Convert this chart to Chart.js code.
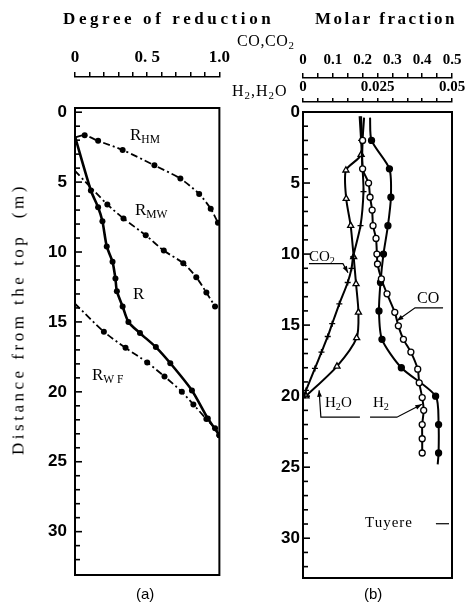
<!DOCTYPE html>
<html>
<head>
<title>Degree of reduction and gas composition</title>
<style>
    body { margin: 0; background: #fff; }
    #wrap { position: relative; width: 468px; height: 603px; overflow: hidden; }
    canvas { position: absolute; top: 0; }
    #leftChart { left: 0; }
    #rightChart { left: 234px; }
    .t {
        position: absolute;
        font-family: 'Liberation Serif', 'DejaVu Serif', serif;
        color: #000;
        white-space: nowrap;
        line-height: 1;
    }
    .t sub { font-size: 0.68em; vertical-align: -0.3em; line-height: 0; }
    .s { font-family: 'Liberation Sans', Arial, sans-serif; }
</style>
<script src="https://cdn.jsdelivr.net/npm/chart.js"></script>
</head>
<body>
<div id="wrap">
    <canvas id="leftChart" width="234" height="603"></canvas>
    <canvas id="rightChart" width="234" height="603"></canvas>

    <div class="t" style="left:63px;top:10px;font-size:17px;font-weight:bold;letter-spacing:3.6px">Degree of reduction</div>
    <div class="t" style="left:315px;top:10px;font-size:17px;font-weight:bold;letter-spacing:2.5px">Molar fraction</div>
    <div class="t" style="left:237px;top:33px;font-size:16px;letter-spacing:0.6px">CO,CO<sub>2</sub></div>
    <div class="t" style="left:232px;top:83px;font-size:16px;letter-spacing:1px">H<sub>2</sub>,H<sub>2</sub>O</div>

    <div class="t" style="left:8px;top:319px;font-size:17px;letter-spacing:3.5px;transform:translate(0,-50%) rotate(-90deg);transform-origin:50% 50%;width:300px;margin-left:-140px;text-align:center">Distance from the top &nbsp;(m)</div>

    <div class="t" style="left:130px;top:126px;font-size:17px">R<sub>HM</sub></div>
    <div class="t" style="left:135px;top:201px;font-size:17px">R<sub>MW</sub></div>
    <div class="t" style="left:133px;top:285px;font-size:17px">R</div>
    <div class="t" style="left:92px;top:366px;font-size:17px">R<sub>W F</sub></div>

    <div class="t" style="left:309px;top:249px;font-size:15px">CO<sub>2</sub></div>
    <div class="t" style="left:417px;top:290px;font-size:16px">CO</div>
    <div class="t" style="left:325px;top:395px;font-size:15px">H<sub>2</sub>O</div>
    <div class="t" style="left:373px;top:395px;font-size:15px">H<sub>2</sub></div>
    <div class="t" style="left:365px;top:515px;font-size:15px;letter-spacing:1px">Tuyere</div>

    <div class="t s" style="left:136px;top:586px;font-size:15px">(a)</div>
    <div class="t s" style="left:364px;top:586px;font-size:15px">(b)</div>
</div>
<script>
    // (a) degree of reduction against depth below the stock line
    const rhmDeg = [0, 0.067, 0.16, 0.33, 0.55, 0.73, 0.86, 0.94, 0.99];
    const rhmDepth = [1.8, 1.65, 2.05, 2.7, 3.8, 4.75, 5.85, 6.9, 7.9];
    const rmwDeg = [0, 0.224, 0.336, 0.49, 0.615, 0.75, 0.84, 0.91, 0.97];
    const rmwDepth = [4.2, 6.6, 7.6, 8.8, 9.9, 10.8, 11.8, 12.9, 13.9];
    const rDeg = [0, 0.11, 0.16, 0.19, 0.22, 0.26, 0.28, 0.29, 0.33, 0.37, 0.45, 0.56, 0.66, 0.81, 0.92, 1.0];
    const rDepth = [1.75, 5.6, 6.8, 7.8, 9.6, 10.7, 11.9, 12.8, 13.9, 15.0, 15.8, 16.8, 17.95, 19.9, 21.9, 23.1];
    const rwfDeg = [0, 0.2, 0.35, 0.5, 0.62, 0.74, 0.82, 0.91, 0.97, 1.0];
    const rwfDepth = [13.7, 15.7, 16.85, 17.9, 18.9, 20.0, 20.9, 21.95, 22.6, 23.1];

    // (b) gas molar fractions (CO, CO2 on 0-0.5 scale; H2, H2O on 0-0.05 scale)
    const coDepth = [0.4, 2, 4, 5, 6, 6.9, 8, 8.9, 10, 10.7, 11.75, 12.8, 14.1, 15.05, 16, 16.9, 18.1, 19.06, 20.1, 21, 22, 23, 24];
    const coVal = [0.205, 0.2, 0.2, 0.22, 0.225, 0.232, 0.235, 0.245, 0.248, 0.25, 0.263, 0.282, 0.308, 0.32, 0.337, 0.362, 0.385, 0.39, 0.4, 0.405, 0.4, 0.4, 0.4];
    const co2Depth = [0.3, 2, 4, 5.6, 8, 10.2, 11, 12, 13.5, 14.9, 15.8, 16.9, 18.05, 19.6, 20.1];
    const co2Val = [0.19, 0.195, 0.2, 0.203, 0.193, 0.168, 0.163, 0.15, 0.122, 0.098, 0.083, 0.062, 0.04, 0.01, 0.0];
    const h2Depth = [0.4, 2, 4, 6, 8, 10, 12, 14, 16, 18, 20, 22, 24, 24.8];
    const h2Val = [0.0225, 0.023, 0.029, 0.0295, 0.0285, 0.027, 0.026, 0.0255, 0.0265, 0.033, 0.0445, 0.0455, 0.0455, 0.0452];
    const h2oDepth = [0.3, 3.0, 4.1, 6.1, 8, 10.2, 12.1, 14.1, 15.9, 17.9, 20];
    const h2oVal = [0.0195, 0.0195, 0.0144, 0.0145, 0.016, 0.017, 0.0178, 0.0186, 0.018, 0.0114, 0.001];

    // tick labels
    const depthLabels = [0, 5, 10, 15, 20, 25, 30];
    const depthMinor = [1, 2, 3, 4, 6, 7, 8, 9, 11, 12, 13, 14, 16, 17, 18, 19, 21, 22, 23, 24, 26, 27, 28, 29, 31, 32];
    const degTickValues = [0, 0.5, 1];
    const degTickLabels = ['0', '0. 5', '1.0'];
    const coTickValues = [0, 0.1, 0.2, 0.3, 0.4, 0.5];
    const coTickLabels = ['0', '0.1', '0.2', '0.3', '0.4', '0.5'];
    const h2TickValues = [0, 0.025, 0.05];
    const h2TickLabels = ['0', '0.025', '0.05'];

    Chart.defaults.color = '#000';
    Chart.defaults.font.family = "'Liberation Sans', Arial, sans-serif";

    function pts(xs, ys) {
        return xs.map((x, i) => ({ x: x, y: ys[i] }));
    }

    function pickLabel(values, labels) {
        return function (v) {
            const i = values.findIndex(t => Math.abs(t - v) < 1e-6);
            return i >= 0 ? labels[i] : '';
        };
    }

    const noFirst = ctx => ctx.dataIndex === 0 ? 0 : 3;

    // box round the plot area plus the small inward ticks on the depth axis
    const frame = {
        id: 'frame',
        afterDraw(chart) {
            const a = chart.chartArea, c = chart.ctx, y = chart.scales.y;
            c.save();
            c.strokeStyle = '#000';
            c.lineWidth = 2;
            c.strokeRect(a.left, a.top, a.right - a.left, a.bottom - a.top);
            c.lineWidth = 1.6;
            depthLabels.concat(depthMinor).forEach(v => {
                const py = y.getPixelForValue(v);
                if (py < a.top + 2 || py > a.bottom - 2) return;
                const len = depthLabels.includes(v) ? 7 : 5;
                c.beginPath();
                c.moveTo(a.left, py);
                c.lineTo(a.left + len, py);
                c.stroke();
            });
            c.restore();
        }
    };

    function depthAxis(min, max, pad) {
        return {
            type: 'linear',
            position: 'left',
            reverse: true,
            min: min,
            max: max,
            afterFit(s) { s.width = 40; },
            border: { display: true, color: '#000', width: 2 },
            grid: { drawOnChartArea: false, drawTicks: false },
            ticks: {
                stepSize: 1,
                autoSkip: false,
                includeBounds: false,
                padding: pad,
                font: { size: 17, weight: 'bold' },
                callback: v => depthLabels.includes(v) ? String(v) : ''
            }
        };
    }

    function gapAxis(h) {
        return {
            type: 'linear',
            axis: 'x',
            position: 'top',
            weight: 0,
            afterFit(s) { s.height = h; },
            border: { display: false },
            grid: { display: false, drawTicks: false },
            ticks: { display: false }
        };
    }

    function topAxis(max, step, weight, h, values, labels, font, pad, tl) {
        return {
            type: 'linear',
            position: 'top',
            weight: weight,
            min: 0,
            max: max,
            afterFit(s) { s.height = h; },
            border: { display: true, color: '#000', width: 1.5 },
            grid: { drawOnChartArea: false, color: '#000', lineWidth: 1.5, tickLength: tl },
            ticks: {
                stepSize: step,
                autoSkip: false,
                maxRotation: 0,
                padding: pad,
                font: font,
                callback: pickLabel(values, labels)
            }
        };
    }

    const serif = "'Liberation Serif', 'DejaVu Serif', serif";

    new Chart(document.getElementById('leftChart'), {
        type: 'scatter',
        data: {
            datasets: [
                { label: 'RHM', data: pts(rhmDeg, rhmDepth), borderDash: [7, 3, 2, 3], borderWidth: 1.8 },
                { label: 'RMW', data: pts(rmwDeg, rmwDepth), borderDash: [7, 3, 2, 3], borderWidth: 1.8 },
                { label: 'R', data: pts(rDeg, rDepth), borderWidth: 2.6 },
                { label: 'RWF', data: pts(rwfDeg, rwfDepth), borderDash: [7, 3, 2, 3], borderWidth: 1.8 }
            ].map(d => Object.assign({
                showLine: true,
                tension: 0.25,
                borderColor: '#000',
                backgroundColor: '#000',
                pointRadius: noFirst,
                pointBorderWidth: 0,
                pointHoverRadius: 0
            }, d))
        },
        options: {
            responsive: false,
            animation: false,
            devicePixelRatio: 1,
            layout: { padding: { left: 35, right: 12, top: 50, bottom: 28 } },
            plugins: { legend: { display: false }, tooltip: { enabled: false } },
            scales: {
                x: topAxis(1, 0.1, 1, 27, degTickValues, degTickLabels,
                    { family: serif, size: 17, weight: 'bold' }, 4, 5),
                gap: gapAxis(31),
                y: depthAxis(-0.3, 33.1, 8)
            }
        },
        plugins: [frame]
    });

    // leader lines for the gas labels, in CO-scale and depth units
    const leaders = [
        { path: [[0.020, 10.67], [0.134, 10.67], [0.151, 11.31]], arrow: true },
        { path: [[0.47, 13.78], [0.376, 13.78], [0.315, 14.7]], arrow: true },
        { path: [[0.191, 21.48], [0.060, 21.48], [0.054, 19.58]], arrow: true },
        { path: [[0.225, 21.48], [0.315, 21.48], [0.399, 20.57]], arrow: true },
        { path: [[0.446, 28.98], [0.49, 28.98]], arrow: false }
    ];

    const leaderLines = {
        id: 'leaderLines',
        afterDatasetsDraw(chart) {
            const xs = chart.scales.xco, ys = chart.scales.y, c = chart.ctx;
            c.save();
            c.strokeStyle = '#000';
            c.fillStyle = '#000';
            c.lineWidth = 1.2;
            leaders.forEach(l => {
                const p = l.path.map(q => [xs.getPixelForValue(q[0]), ys.getPixelForValue(q[1])]);
                c.beginPath();
                p.forEach((q, i) => i ? c.lineTo(q[0], q[1]) : c.moveTo(q[0], q[1]));
                c.stroke();
                if (l.arrow) {
                    const a = p[p.length - 1], b = p[p.length - 2];
                    const ang = Math.atan2(a[1] - b[1], a[0] - b[0]);
                    c.beginPath();
                    c.moveTo(a[0], a[1]);
                    c.lineTo(a[0] - 7 * Math.cos(ang - 0.35), a[1] - 7 * Math.sin(ang - 0.35));
                    c.lineTo(a[0] - 7 * Math.cos(ang + 0.35), a[1] - 7 * Math.sin(ang + 0.35));
                    c.closePath();
                    c.fill();
                }
            });
            c.restore();
        }
    };

    const gasStyle = {
        showLine: true,
        tension: 0.25,
        borderColor: '#000',
        borderWidth: 2,
        pointBorderColor: '#000',
        pointBorderWidth: 1.3,
        pointHoverRadius: 0
    };

    new Chart(document.getElementById('rightChart'), {
        type: 'scatter',
        data: {
            datasets: [
                { label: 'CO', data: pts(coVal, coDepth), xAxisID: 'xco', pointStyle: 'circle',
                  pointRadius: noFirst, backgroundColor: '#fff' },
                { label: 'CO2', data: pts(co2Val, co2Depth), xAxisID: 'xco', pointStyle: 'cross',
                  pointRadius: noFirst, backgroundColor: '#000' },
                { label: 'H2', data: pts(h2Val, h2Depth), xAxisID: 'xh2', pointStyle: 'circle',
                  pointRadius: ctx => (ctx.dataIndex === 0 || ctx.dataIndex === h2Val.length - 1) ? 0 : 3,
                  backgroundColor: '#000' },
                { label: 'H2O', data: pts(h2oVal, h2oDepth), xAxisID: 'xh2', pointStyle: 'triangle',
                  pointRadius: ctx => ctx.dataIndex === 0 ? 0 : 3.5, backgroundColor: '#fff' }
            ].map(d => Object.assign({}, gasStyle, d))
        },
        options: {
            responsive: false,
            animation: false,
            devicePixelRatio: 1,
            layout: { padding: { left: 29, right: 16, top: 50, bottom: 25 } },
            plugins: { legend: { display: false }, tooltip: { enabled: false } },
            scales: {
                xco: topAxis(0.5, 0.05, 2, 28, coTickValues, coTickLabels,
                    { family: serif, size: 15, weight: 'bold' }, 4, 5),
                xh2: topAxis(0.05, 0.005, 1, 24, h2TickValues, h2TickLabels,
                    { family: serif, size: 15, weight: 'bold' }, 2, 4),
                gap: gapAxis(10),
                y: depthAxis(0, 32.8, 3)
            }
        },
        plugins: [frame, leaderLines]
    });
</script>
</body>
</html>
